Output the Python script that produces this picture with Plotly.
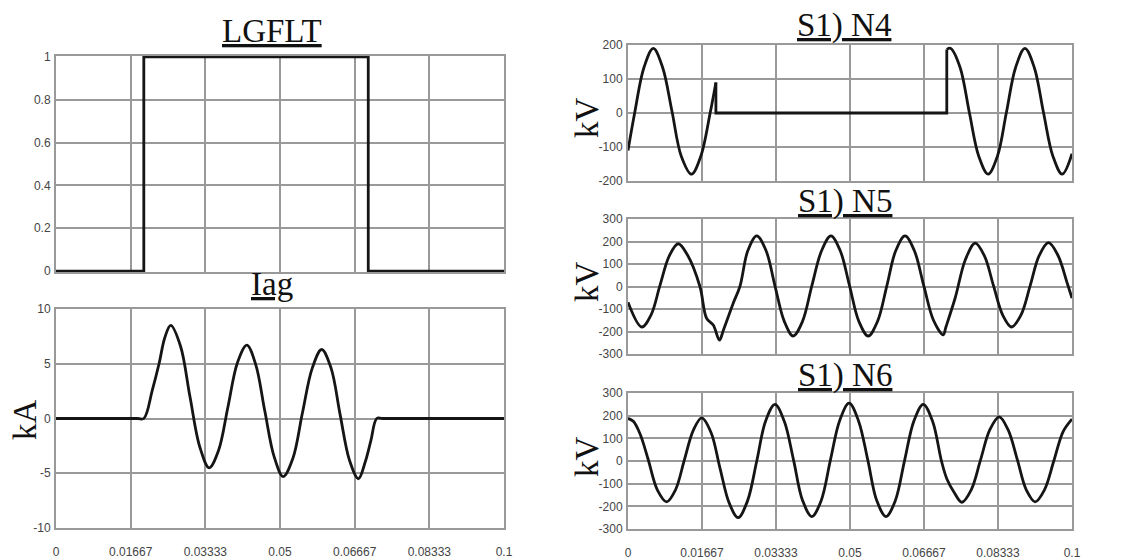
"Fault transient plots: LGFLT, Iag and S1) N4/N5/N6 voltages"

import plotly.graph_objects as go

# time axis ticks (seconds)
x_tickvals = [0, 0.01667, 0.03333, 0.05, 0.06667, 0.08333, 0.1]
x_ticktext = ["0", "0.01667", "0.03333", "0.05", "0.06667", "0.08333", "0.1"]

# y ticks per panel
lgflt_ticks = [0, 0.2, 0.4, 0.6, 0.8, 1]
iag_ticks = [-10, -5, 0, 5, 10]
n4_ticks = [-200, -100, 0, 100, 200]
n56_ticks = [-300, -200, -100, 0, 100, 200, 300]

# fault signal
lgflt_t = [0, 0.0196, 0.0196, 0.0697, 0.0697, 0.1]
lgflt_v = [0, 0, 1, 1, 0, 0]

# fault current Iag (kA)
iag_t = [0, 0.0182, 0.0196, 0.0215, 0.0230, 0.0243, 0.0256, 0.0278, 0.0299, 0.0321,
         0.0342, 0.0363, 0.0384, 0.0405, 0.0426, 0.0446, 0.0466, 0.0487, 0.0507,
         0.0529, 0.0550, 0.0572, 0.0593, 0.0614, 0.0634, 0.0655, 0.0675, 0.0690,
         0.0703, 0.0716, 0.0730, 0.1]
iag_v = [0, 0, 0, 2.6, 5.0, 7.4, 8.5, 6.6, 2.0, -2.6,
         -4.5, -2.9, 1.1, 5.1, 6.7, 4.9, 0.7, -3.5, -5.3,
         -3.6, 0.5, 4.6, 6.3, 4.6, 0.4, -3.8, -5.5, -4.0,
         -2.0, 0, 0, 0]

# S1) N4 voltage (kV): wave before fault, dead section, wave after clearing
n4_pre_t = [0, 0.0015, 0.0036, 0.0057, 0.0078, 0.0099, 0.0120, 0.0143, 0.0164, 0.0185, 0.0198]
n4_pre_v = [-110, 0, 134, 190, 134, 5, -127, -180, -127, 0, 90]
n4_dead_t = [0.0198, 0.0198, 0.0718, 0.0718]
n4_dead_v = [90, 0, 0, 187]
n4_post_t = [0.0718, 0.0727, 0.0748, 0.0769, 0.0790, 0.0811, 0.0832, 0.0852, 0.0873,
             0.0894, 0.0915, 0.0936, 0.0957, 0.0978, 0.1]
n4_post_v = [187, 190, 134, 0, -127, -180, -127, 0, 134, 190, 134, 0, -127, -180, -120]

# S1) N5 voltage (kV)
n5_t = [0, 0.0031, 0.0052, 0.0072, 0.0093, 0.0113, 0.0134, 0.0162, 0.0177, 0.0192,
        0.0206, 0.0215, 0.0237, 0.0252, 0.0270, 0.0290, 0.0311, 0.0331, 0.0352, 0.0372,
        0.0393, 0.0414, 0.0436, 0.0457, 0.0478, 0.0499, 0.0520, 0.0541, 0.0562, 0.0583,
        0.0603, 0.0624, 0.0645, 0.0666, 0.0688, 0.0710, 0.0716, 0.0737, 0.0760, 0.0782,
        0.0803, 0.0823, 0.0844, 0.0864, 0.0885, 0.0906, 0.0926, 0.0947, 0.0968, 0.0990,
        0.1]
n5_v = [-70, -180, -126, 5, 136, 190, 140, 0, -141, -171,
        -238, -193, -74, 0, 160, 225, 159, 3, -155, -220,
        -155, 3, 159, 225, 159, 3, -155, -220, -155, 3,
        159, 225, 159, 5, -150, -215, -180, -50, 120, 193,
        135, 5, -127, -180, -127, 5, 137, 195, 140, 10,
        -52]

# S1) N6 voltage (kV)
n6_t = [0, 0.0012, 0.0027, 0.0045, 0.0066, 0.0087, 0.0107, 0.0127, 0.0147, 0.0166,
        0.0187, 0.0207, 0.0228, 0.0248, 0.0269, 0.0290, 0.0310, 0.0331, 0.0352, 0.0373,
        0.0393, 0.0414, 0.0435, 0.0456, 0.0477, 0.0498, 0.0519, 0.0540, 0.0560, 0.0581,
        0.0602, 0.0623, 0.0644, 0.0665, 0.0686, 0.0706, 0.0718, 0.0735, 0.0752, 0.0773,
        0.0794, 0.0815, 0.0836, 0.0856, 0.0877, 0.0897, 0.0917, 0.0938, 0.0959, 0.0980,
        0.1]
n6_v = [188, 175, 120, 10, -127, -180, -127, 5, 135, 190,
        126, -30, -186, -250, -177, 0, 177, 250, 175, 3,
        -173, -245, -175, 5, 180, 255, 178, 5, -173, -245,
        -175, 3, 177, 250, 175, 0, -78, -140, -182, -127,
        5, 138, 195, 138, 5, -127, -180, -127, 0, 130,
        185]

# the page body has an 8px default margin, so the figure is drawn 8px in
OFF = 8
W, H = 1126 - OFF, 560 - OFF
GRID = "#999999"
TRACE = "#151515"
SERIF = "Liberation Serif, Times New Roman, serif"
SANS = "Liberation Sans, Arial, sans-serif"


def px(x):
    return (x - OFF) / W


def py(y):
    return 1 - (y - OFF) / H


fig = go.Figure()


def add_line(t, v, axis, shape="spline"):
    fig.add_trace(go.Scatter(
        x=t, y=v, mode="lines", line=dict(color=TRACE, width=2.8, shape=shape),
        xaxis="x" + axis, yaxis="y" + axis, showlegend=False, hoverinfo="skip"))


add_line(lgflt_t, lgflt_v, "", shape="linear")
add_line(iag_t, iag_v, "2")
add_line(n4_pre_t, n4_pre_v, "3")
add_line(n4_dead_t, n4_dead_v, "3", shape="linear")
add_line(n4_post_t, n4_post_v, "3")
add_line(n5_t, n5_v, "4")
add_line(n6_t, n6_v, "5")


def x_axis(dom, anchor, labels):
    return dict(domain=[px(dom[0]), px(dom[1])], anchor=anchor, range=[0, 0.1],
                tickvals=x_tickvals, ticktext=x_ticktext, showticklabels=labels,
                showgrid=True, gridcolor=GRID, gridwidth=1.8, zeroline=False,
                showline=True, linecolor=GRID, linewidth=2, mirror=True,
                ticks="", ticklabelstandoff=12, automargin=False,
                tickfont=dict(family=SANS, size=12, color="#444"))


def y_axis(dom, anchor, rng, vals):
    return dict(domain=[py(dom[1]), py(dom[0])], anchor=anchor, range=rng,
                tickvals=vals, ticktext=[f"{v:g}" for v in vals],
                showgrid=True, gridcolor=GRID, gridwidth=1.8,
                zeroline=False, showline=True, linecolor=GRID, linewidth=2,
                mirror=True, ticks="", ticklabelstandoff=1, automargin=False,
                tickfont=dict(family=SANS, size=12, color="#444"))


LEFT = (56, 504)
RIGHT = (628, 1072)

fig.update_layout(
    width=W, height=H, margin=dict(l=0, r=0, t=0, b=0),
    paper_bgcolor="white", plot_bgcolor="white",
    xaxis=x_axis(LEFT, "y", False),
    yaxis=y_axis((56, 272), "x", [-0.004, 1.004], lgflt_ticks),
    xaxis2=x_axis(LEFT, "y2", True),
    yaxis2=y_axis((309, 528), "x2", [-10, 10], iag_ticks),
    xaxis3=x_axis(RIGHT, "y3", False),
    yaxis3=y_axis((45, 181), "x3", [-200, 200], n4_ticks),
    xaxis4=x_axis(RIGHT, "y4", False),
    yaxis4=y_axis((219, 354), "x4", [-300, 300], n56_ticks),
    xaxis5=x_axis(RIGHT, "y5", True),
    yaxis5=y_axis((393, 529), "x5", [-300, 300], n56_ticks),
)

# panel titles (underlined, serif)
titles = [("LGFLT", 272, 31), ("Iag", 272, 284), ("S1) N4", 844, 25),
          ("S1) N5", 845, 201), ("S1) N6", 845, 375)]
for text, x, y in titles:
    fig.add_annotation(text="<u>" + text + "</u>", x=px(x), y=py(y), xref="paper",
                       yref="paper", showarrow=False, xanchor="center", yanchor="middle",
                       font=dict(family=SERIF, size=33, color="#111"))

# unit labels
units = [("kA", 25, 420), ("kV", 587, 118), ("kV", 587, 282), ("kV", 587, 457)]
for text, x, y in units:
    fig.add_annotation(text=text, x=px(x), y=py(y), xref="paper", yref="paper",
                       showarrow=False, textangle=-90, xanchor="center", yanchor="middle",
                       font=dict(family=SERIF, size=33, color="#111"))

fig.write_html("out.html")
